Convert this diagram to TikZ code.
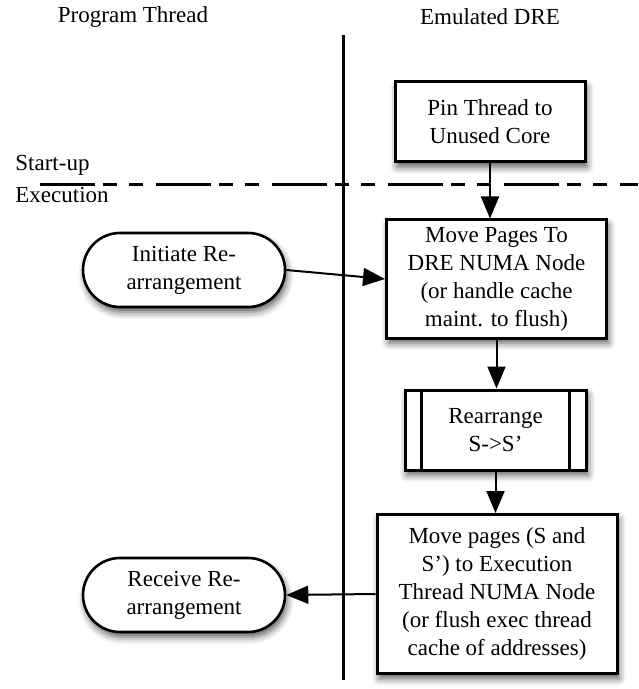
\documentclass[tikz,border=0pt]{standalone}
\usepackage{fontspec}
\setmainfont{Liberation Serif}
\usepackage{tikz}
\usetikzlibrary{shapes,arrows.meta,shadows.blur,positioning}
\tikzstyle{boxshadow}=[blur shadow={shadow xshift=1pt, shadow yshift=-2.5pt,
        shadow blur radius=3.5pt, shadow opacity=65}]
\tikzstyle{process}=[rectangle, draw, line width=1.5pt, fill=white,
        align=center, inner sep=0pt, boxshadow]
\tikzstyle{terminal}=[rounded rectangle, draw, line width=1.3pt, fill=white,
        align=center, inner sep=0pt, minimum width=101pt,
        minimum height=37pt, boxshadow]
\tikzstyle{flow}=[line width=1pt, -{Triangle[length=11pt,width=9pt]}]
\tikzstyle{lane}=[line width=1.5pt]
\tikzstyle{phase}=[line width=1.5pt,
        dash pattern=on 27.5pt off 4pt on 7pt off 6pt on 7pt off 6.5pt]

\begin{document}
\begin{tikzpicture}
      [x=0.5pt, y=-0.5pt, font=\fontsize{11.5}{14}\selectfont]
      \useasboundingbox (0,0) rectangle (638,689);
      % Lane headings
      \node (progthr) at (133,17) {Program Thread};
      \node (emudre) at (490,17) {Emulated DRE};
      % Lane separator and phase line
      \coordinate (lanetop) at (343,35);
      \coordinate (lanebot) at (343,680);
      \coordinate (phasel) at (40,185);
      \coordinate (phaser) at (638,185);
      \draw [phase] (phasel) -- (phaser);
      \draw [lane] (lanetop) -- (lanebot);
      \node [anchor=west, inner sep=0pt] (startup) at (15,165) {Start-up};
      \node [anchor=west, inner sep=0pt] (exec) at (15,195) {Execution};
      % Place nodes
      \node [process, minimum width=95pt, minimum height=40pt] (pin) at (490,122)
            {Pin Thread to\\Unused Core};
      \node [process, minimum width=110pt, minimum height=59pt] (move) at (496.5,279)
            {Move Pages To\\DRE NUMA Node\\(or handle cache\\maint. to flush)};
      \node [process, minimum width=90.5pt, minimum height=40pt] (rearr) at (495.5,430)
            {Rearrange\\S->S’};
      \node [process, minimum width=120pt, minimum height=79.5pt] (moveback) at (497,594)
            {Move pages (S and\\S’) to Execution\\Thread NUMA Node\\(or flush exec thread\\cache of addresses)};
      \node [terminal] (init) at (184,270) {Initiate Re-\\arrangement};
      \node [terminal] (recv) at (184,595) {Receive Re-\\arrangement};
      \draw [line width=1.5pt] ([xshift=9pt]rearr.north west) -- ([xshift=9pt]rearr.south west);
      \draw [line width=1.5pt] ([xshift=-9pt]rearr.north east) -- ([xshift=-9pt]rearr.south east);
      % Draw edges
      \draw [flow] (pin.south) -- (pin.south |- move.north);
      \draw [flow] (init.east) -- (move.west);
      \draw [flow] (move.south) -- (move.south |- rearr.north);
      \draw [flow] (rearr.south) -- (rearr.south |- moveback.north);
      \draw [flow] (moveback.west) -- (recv.east);
\end{tikzpicture}
\end{document}
